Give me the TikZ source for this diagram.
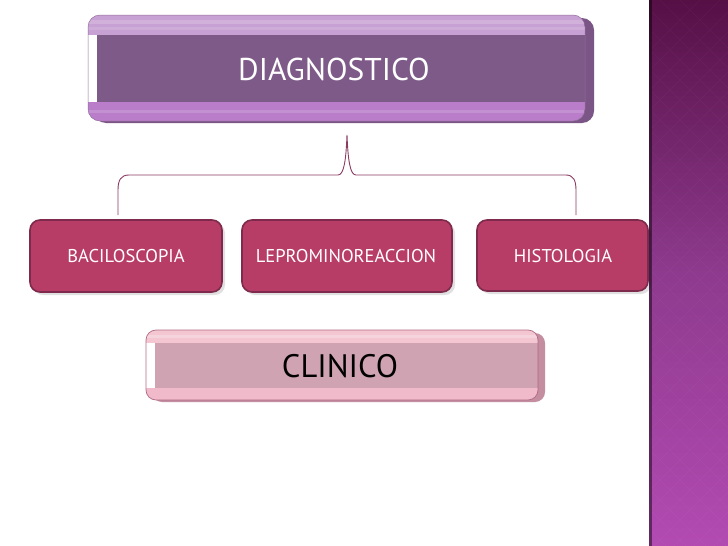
\documentclass[tikz,border=0pt]{standalone}
\usepackage{fontspec}
\setmainfont{PT Sans}
\begin{document}
\begin{tikzpicture}[x=1pt,y=-1pt,
  rowbox/.style={draw=rowedge,line width=1.6pt,fill=rowfill,rounded corners=10pt},
  rowtext/.style={text=white,font=\fontsize{18.5}{22}\selectfont},
  bracketline/.style={draw=brk,line width=0.9pt}]
\definecolor{rowfill}{HTML}{B83D66}
\definecolor{rowedge}{HTML}{7E2A4C}
\definecolor{brk}{HTML}{8B3A62}
\definecolor{topband}{HTML}{C7A1D3}
\definecolor{midband}{HTML}{7E5A88}
\definecolor{botband}{HTML}{B97DC9}
\definecolor{topshadow}{HTML}{7A5585}
\definecolor{ctop}{HTML}{F3C6D2}
\definecolor{cmid}{HTML}{CFA3B1}
\definecolor{cbot}{HTML}{F0BACA}
\definecolor{cshadow}{HTML}{C48EA0}
\definecolor{cedge}{HTML}{B06A85}
\definecolor{striptop}{HTML}{561046}
\definecolor{stripmid}{HTML}{8E3A8E}
\definecolor{stripbot}{HTML}{B24AB2}
\useasboundingbox (0,0) rectangle (728,546);
\fill[white] (0,0) rectangle (728,546);

% right strip
\shade[top color=striptop,bottom color=stripbot,middle color=stripmid] (649,0) rectangle (728,546);
\begin{scope}
  \clip (652,0) rectangle (728,546);
  \foreach \k in {-40,-20,...,600}{
    \draw[white,opacity=0.035,line width=0.6pt] (640,\k) -- (740,\k+100);
    \draw[white,opacity=0.035,line width=0.6pt] (640,\k+100) -- (740,\k);
  }
\end{scope}
\fill[black,opacity=0.45] (649,0) rectangle (652,546);

% top box
\fill[topshadow,rounded corners=12pt] (94,18) rectangle (594,123);
\begin{scope}
  \clip[rounded corners=12pt] (88,15) rectangle (585,121);
  \fill[topband] (88,15) rectangle (585,35);
  \fill[white,opacity=0.18] (88,20) rectangle (585,24);
  \fill[white,opacity=0.12] (88,27) rectangle (585,30);
  \fill[midband] (88,35) rectangle (585,102);
  \fill[botband] (88,102) rectangle (585,121);
  \fill[white,opacity=0.15] (88,110) rectangle (585,113);
  \fill[white] (88,35) rectangle (97,102);
\end{scope}
\draw[draw=midband!70!topband,line width=0.5pt,rounded corners=12pt] (88,15) rectangle (585,121);
\node[text=white,font=\fontsize{31.5}{35}\selectfont] (diag) at (334,69) {DIAGNOSTICO};

% row boxes
\fill[black,opacity=0.12,rounded corners=10pt] (33,223) rectangle (225,295);
\fill[black,opacity=0.12,rounded corners=10pt] (245,223) rectangle (455,295);
\fill[black,opacity=0.12,rounded corners=10pt] (480,223) rectangle (651,294);
\draw[rowbox] (30,220) rectangle (222,292);
\draw[rowbox] (242,220) rectangle (452,292);
\draw[rowbox] (477,220) rectangle (648,291);
\node[rowtext] (baci) at (126,256) {BACILOSCOPIA};
\node[rowtext] (lepro) at (346,256) {LEPROMINOREACCION};
\node[rowtext] (histo) at (563,256) {HISTOLOGIA};

% bracket
\coordinate (tip) at (347,135);
\coordinate (lend) at (118,215);
\coordinate (rend) at (576,215);
\draw[bracketline] (lend) -- (118,190) .. controls (118,180) and (121,175) .. (129,175)
  -- (338,175) .. controls (344,175) and (346,160) .. (tip)
  .. controls (348,160) and (350,175) .. (356,175) -- (566,175)
  .. controls (573,175) and (576,180) .. (576,190) -- (rend);

% CLINICO box
\fill[cshadow,rounded corners=10pt] (152,333) rectangle (545,402);
\begin{scope}
  \clip[rounded corners=10pt] (146,330) rectangle (538,400);
  \fill[ctop] (146,330) rectangle (538,343);
  \fill[white,opacity=0.25] (146,335) rectangle (538,338);
  \fill[cmid] (146,343) rectangle (538,388);
  \fill[cbot] (146,388) rectangle (538,400);
  \fill[white] (146,343) rectangle (155,388);
\end{scope}
\draw[cedge,line width=0.7pt,rounded corners=10pt] (146,330) rectangle (538,400);
\node[text=black,font=\fontsize{32.5}{36}\selectfont] (clin) at (340,366) {CLINICO};
\end{tikzpicture}
\end{document}
